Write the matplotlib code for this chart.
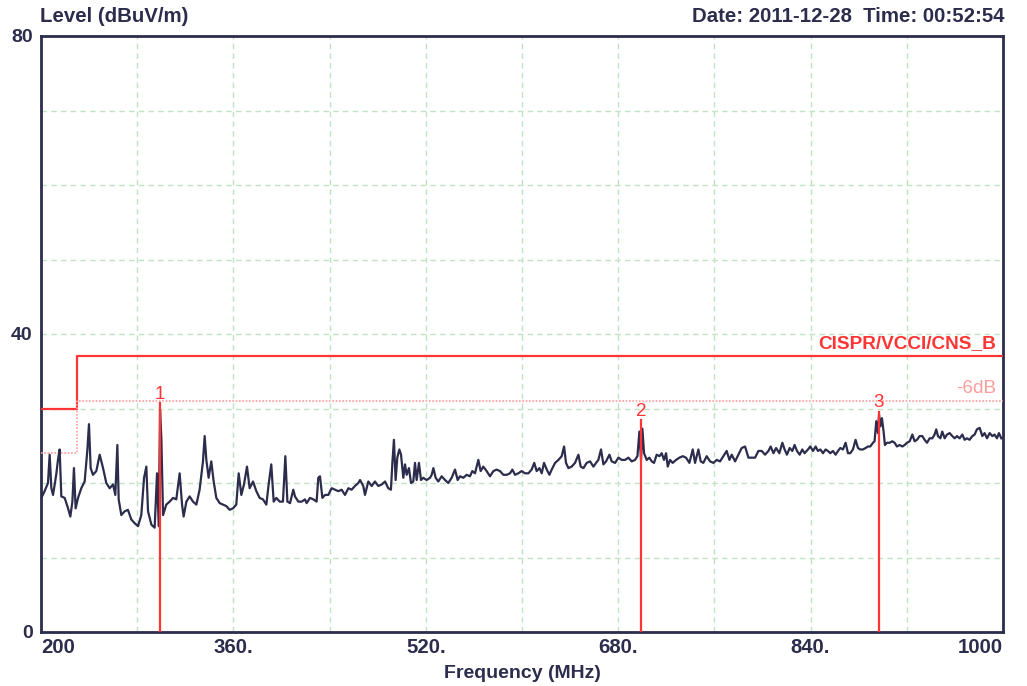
import matplotlib
matplotlib.use("Agg")
import matplotlib.pyplot as plt

plt.rcParams['font.family'] = ['Liberation Sans', 'DejaVu Sans']

# scan trace (MHz, dBuV/m)
freq = [
    200.3, 203.0, 205.8, 207.2, 208.6, 210.0, 211.4, 212.8, 214.1, 215.5, 216.9, 219.7,
    222.5, 224.4, 226.1, 227.4, 228.8, 230.8, 233.5, 236.3, 238.5, 239.9, 241.3, 243.2,
    246.0, 248.8, 251.6, 254.3, 257.1, 259.9, 261.8, 263.5, 264.6, 266.8, 269.6, 272.3,
    275.1, 277.9, 280.7, 283.4, 285.7, 287.6, 289.0, 291.8, 294.5, 296.5, 297.9, 299.0,
    300.1, 301.5, 304.2, 307.0, 309.8, 312.5, 315.3, 317.3, 318.6, 320.9, 323.6, 326.4,
    329.2, 331.9, 334.7, 336.1, 337.5, 339.4, 341.6, 343.6, 345.8, 348.6, 351.4, 354.1,
    356.9, 359.7, 362.4, 364.4, 366.6, 368.8, 371.3, 373.5, 376.3, 379.1, 381.8, 384.6,
    387.4, 389.3, 391.5, 393.5, 395.7, 398.5, 401.2, 403.2, 404.9,
    407.1, 409.8, 411.2, 414.0, 416.8, 419.5, 420.9, 423.7, 426.5, 429.2, 430.6, 432.0,
    434.0, 436.2, 438.9, 441.7, 444.5, 447.3, 450.0, 452.8, 455.6, 458.3, 461.1, 463.9,
    465.3, 468.0, 469.4, 472.2, 475.0, 477.7, 480.5, 483.3, 486.1, 488.8, 491.0, 492.2,
    493.5, 494.9, 496.3, 498.0, 499.4, 501.3, 502.7, 504.1, 506.0, 507.7, 509.6, 511.0,
    512.4, 514.3, 516.0, 517.9, 520.7, 523.5, 524.9, 526.3, 528.2, 530.4, 533.2, 536.0,
    538.7, 541.5, 544.3, 546.5, 548.4, 551.2, 554.0, 556.7, 558.7, 560.9, 563.7, 565.6,
    567.8, 570.6, 573.4, 576.2, 578.9, 581.7, 584.5, 587.2, 590.0, 592.0, 594.2, 596.9,
    599.7, 602.5, 605.3, 608.0, 610.2,
    612.2, 614.5, 616.4, 618.3, 620.6, 622.8, 624.7, 627.5, 630.3, 633.0, 635.0, 636.6,
    638.6, 641.3, 644.1, 646.9, 648.8, 651.1, 653.8, 656.6, 659.4, 661.6, 663.5, 665.7,
    667.7, 669.9, 672.7, 674.6, 677.4, 680.2, 682.9, 685.7, 688.5, 691.2, 694.0, 696.0,
    697.6, 699.0, 700.1, 701.5, 703.7, 705.9, 707.9, 709.8, 712.0, 714.3, 716.2, 718.1,
    719.8, 721.2, 723.1, 725.3, 728.1, 730.9, 733.7, 736.4, 739.2, 742.0, 743.9, 746.7,
    748.6, 750.8, 753.6, 756.4, 759.2, 761.9, 764.7, 767.5, 770.2, 772.5, 774.4, 777.2,
    779.9, 782.7, 785.5, 788.3, 791.0, 793.8, 796.6, 799.4, 802.1, 804.9, 806.8, 809.1,
    811.3, 814.0,
    816.5, 818.4, 820.3, 822.6, 824.8, 826.7, 828.7, 830.9, 833.1, 835.0, 837.8, 839.7,
    842.0, 844.2, 846.1, 848.1, 850.3, 852.5, 854.4, 856.4, 858.6, 860.8, 862.8, 864.7,
    866.9, 869.1, 871.1, 873.0, 875.2, 877.4, 879.4, 881.3, 883.5, 885.8, 887.7, 889.6,
    891.9, 893.2, 894.6, 896.0, 896.9, 898.0, 899.3, 900.7, 901.8, 903.5, 905.7, 907.9,
    909.9, 911.8, 914.0, 916.3, 918.2, 920.1, 922.4, 924.6, 926.5, 928.5, 930.7, 932.9,
    934.8, 936.8, 939.0, 941.2, 943.1, 944.5, 945.9, 947.9, 949.5, 951.5, 953.4, 955.6,
    957.8, 959.8, 961.7, 963.9, 966.2, 968.1, 970.0, 972.2, 974.5, 976.4, 978.3, 980.6,
    982.8, 984.7, 986.7, 988.9, 991.1, 993.0, 995.0, 996.6, 998.6,
]
level = [
    18.0, 18.9, 20.0, 23.8, 19.3, 18.4, 19.8, 21.3, 23.1, 24.5, 18.2, 18.0,
    16.6, 15.5, 17.5, 22.0, 16.6, 18.0, 19.3, 20.2, 24.3, 27.9, 22.0, 21.1,
    21.6, 23.8, 22.0, 20.0, 19.3, 19.8, 18.4, 25.1, 17.8, 15.7, 16.2, 16.4,
    15.1, 14.6, 14.2, 15.7, 20.7, 22.2, 16.2, 14.4, 14.0, 21.3, 14.2, 29.8,
    26.0, 15.7, 17.1, 17.5, 18.0, 17.8, 21.3, 17.1, 15.5, 17.5, 18.2, 17.5,
    17.1, 19.1, 22.9, 26.3, 23.1, 20.7, 22.9, 20.2, 18.0, 17.3, 17.1, 16.9,
    16.4, 16.6, 17.1, 21.3, 18.4, 19.8, 22.2, 19.3, 20.2, 18.9, 18.0, 17.8,
    17.1, 19.8, 22.5, 17.5, 18.0, 17.5, 17.5, 23.6, 17.5,
    17.3, 19.1, 18.2, 17.5, 17.5, 17.8, 17.3, 18.0, 17.8, 17.5, 20.7, 20.9,
    18.0, 18.4, 18.4, 19.3, 19.1, 18.9, 19.1, 18.4, 19.3, 19.1, 19.6, 20.0,
    20.4, 19.6, 18.4, 20.2, 19.6, 20.2, 19.6, 19.8, 20.2, 19.3, 19.1, 22.7,
    25.8, 20.4, 23.4, 24.5, 23.8, 20.7, 22.5, 21.1, 22.0, 20.0, 20.2, 22.7,
    20.4, 22.7, 20.4, 20.7, 20.4, 20.7, 21.1, 22.0, 20.7, 20.2, 20.9, 20.4,
    20.0, 20.7, 21.8, 20.4, 20.9, 20.7, 21.1, 20.9, 21.6, 21.3, 23.1, 21.6,
    22.2, 21.6, 20.9, 21.6, 21.8, 21.6, 21.1, 21.1, 21.3, 21.8, 21.1, 21.3,
    21.6, 21.3, 21.3, 21.8, 22.7,
    21.6, 22.0, 21.3, 22.7, 21.8, 21.1, 21.8, 22.7, 23.1, 23.6, 24.9, 22.7,
    22.0, 22.2, 22.7, 23.8, 22.2, 22.0, 22.7, 22.9, 22.2, 22.7, 23.1, 24.5,
    22.5, 22.9, 23.8, 22.9, 22.7, 23.4, 23.1, 23.1, 23.4, 22.9, 23.1, 23.6,
    26.9, 23.1, 27.3, 24.0, 23.1, 23.4, 22.9, 22.7, 23.8, 23.6, 24.0, 23.1,
    24.0, 22.2, 23.1, 22.7, 23.1, 23.4, 23.6, 23.4, 22.7, 24.5, 22.7, 24.5,
    22.9, 22.7, 23.6, 22.9, 22.7, 23.1, 22.9, 23.6, 24.3, 23.1, 23.8, 22.9,
    23.8, 24.7, 24.9, 23.4, 23.4, 23.4, 24.3, 24.3, 23.8, 24.3, 24.9, 24.0,
    24.7, 24.0,
    25.4, 24.5, 23.8, 24.7, 24.3, 25.1, 24.3, 23.8, 24.5, 24.0, 24.5, 24.9,
    24.3, 24.9, 24.3, 24.5, 24.0, 24.5, 24.3, 24.0, 24.3, 23.8, 24.3, 24.7,
    24.5, 25.4, 24.0, 24.0, 24.5, 25.8, 24.7, 24.5, 24.5, 24.7, 24.9, 24.9,
    25.4, 25.6, 28.3, 26.7, 29.2, 27.6, 28.7, 26.9, 25.1, 25.4, 25.4, 25.6,
    25.4, 24.9, 25.1, 24.9, 25.1, 25.4, 25.6, 26.5, 25.6, 25.8, 26.3, 26.3,
    25.8, 25.4, 26.0, 26.0, 26.5, 27.2, 26.3, 26.0, 26.9, 26.0, 26.5, 26.7,
    26.3, 26.0, 26.3, 26.0, 26.5, 25.8, 26.0, 25.8, 26.3, 26.5, 27.2, 27.4,
    26.3, 26.7, 26.0, 26.7, 26.3, 26.5, 26.0, 26.7, 26.0,
]

# CISPR class B limit and -6 dB margin line
limit_freq = [200, 230, 230, 1000]
limit_level = [30, 30, 37, 37]
margin_level = [24, 24, 31, 31]

# markers
marker_freq = [299.2, 698.8, 896.5]
marker_level = [30.7, 28.4, 29.5]
marker_names = ['1', '2', '3']

xticks = [200, 280, 360, 440, 520, 600, 680, 760, 840, 920, 1000]
xtick_labels = ['200', '', '360.', '', '520.', '', '680.', '', '840.', '', '1000']
yticks = [0, 10, 20, 30, 40, 50, 60, 70, 80]
ytick_labels = ['0', '', '', '', '40', '', '', '', '80']

navy = '#2c2c4c'
red = '#ff3535'

fig = plt.figure(figsize=(10.27, 6.86), dpi=100)
ax = fig.add_axes([41 / 1027, 1 - 632 / 686, 962 / 1027, 596 / 686])

ax.plot(limit_freq, limit_level, color=red, lw=1.6, zorder=3)
ax.plot(limit_freq, margin_level, color='#ff9c9c', lw=1.2, ls=(0, (1, 1)), zorder=3)
ax.plot(freq, level, color=navy, lw=1.6, zorder=4)
for f, lv, name in zip(marker_freq, marker_level, marker_names):
    ax.plot([f, f], [0, lv], color=red, lw=1.6, zorder=5)
    ax.text(f, lv + 0.1, name, color=red, fontsize=13.5, ha='center', va='bottom')

ax.text(994, 37.6, 'CISPR/VCCI/CNS_B', color=red, fontsize=13.7, fontweight='bold',
        ha='right', va='bottom')
ax.text(994, 31.5, '-6dB', color='#ff9c9c', fontsize=13.7, ha='right', va='bottom')

ax.set_xlim(200, 1000)
ax.set_ylim(0, 80)
ax.set_xticks(xticks)
ax.set_xticklabels(xtick_labels)
ax.set_yticks(yticks)
ax.set_yticklabels(ytick_labels)
ax.tick_params(axis='x', length=0, labelsize=14.7, labelcolor=navy, pad=4)
ax.tick_params(axis='y', length=0, labelsize=14, labelcolor=navy, pad=6)
for lab in ax.get_xticklabels() + ax.get_yticklabels():
    lab.set_fontweight('bold')
ax.get_xticklabels()[0].set_ha('left')
ax.get_xticklabels()[-1].set_ha('right')
ax.grid(True, color='#bfe3c4', ls=(0, (4, 3)), lw=1.0)
for sp in ax.spines.values():
    sp.set_color(navy)
    sp.set_linewidth(2)

fig.text(40 / 1027, 1 - 17 / 686, 'Level (dBuV/m)', color=navy, fontsize=14.7,
         fontweight='bold', ha='left', va='center')
fig.text(1005 / 1027, 1 - 17 / 686, 'Date: 2011-12-28  Time: 00:52:54', color=navy,
         fontsize=14.7, fontweight='bold', ha='right', va='center')
fig.text(522 / 1027, 1 - 673 / 686, 'Frequency (MHz)', color=navy, fontsize=14,
         fontweight='bold', ha='center', va='center')

fig.savefig('out.png', dpi=100)
